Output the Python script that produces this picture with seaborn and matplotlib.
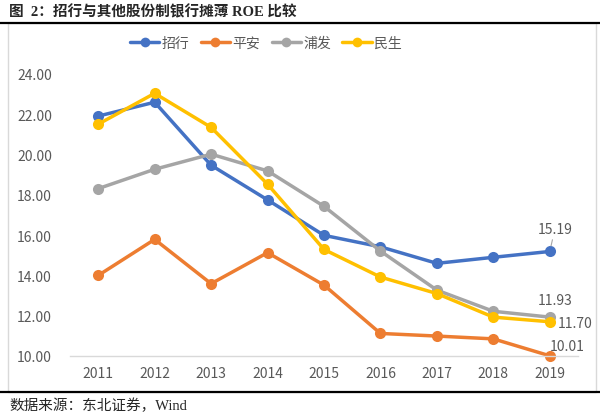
import pandas as pd
import seaborn as sns
import matplotlib.pyplot as plt
from matplotlib.lines import Line2D
from matplotlib.patches import Rectangle

# ---------------- data ----------------
years = ['2011', '2012', '2013', '2014', '2015', '2016', '2017', '2018', '2019']
zhaohang = [21.91, 22.60, 19.47, 17.75, 15.99, 15.42, 14.60, 14.90, 15.19]
pingan = [14.00, 15.79, 13.59, 15.13, 13.52, 11.12, 10.99, 10.85, 10.01]
pufa = [18.31, 19.27, 20.02, 19.19, 17.43, 15.21, 13.27, 12.22, 11.93]
minsheng = [21.51, 23.04, 21.35, 18.53, 15.29, 13.92, 13.10, 11.93, 11.70]

series_names = ['招行', '平安', '浦发', '民生']
colors = ['#4472C4', '#ED7D31', '#A5A5A5', '#FFC000']
tick_labels = ['10.00', '12.00', '14.00', '16.00', '18.00', '20.00', '22.00', '24.00']

df = pd.DataFrame({'year': years * 4,
                   'x': list(range(len(years))) * 4,
                   'roe': zhaohang + pingan + pufa + minsheng,
                   'bank': [n for n in series_names for _ in years]})

# ---------------- figure ----------------
sns.set_style('white')
plt.rcParams['font.family'] = ['Noto Sans CJK SC', 'DejaVu Sans']

fig = plt.figure(figsize=(6, 4.14), dpi=100)
ax = fig.add_axes([70 / 600, 1 - 357 / 414, 508 / 600, 282 / 414])

sns.lineplot(data=df, x='x', y='roe', hue='bank', palette=colors, ax=ax,
             marker='o', markersize=8, markeredgewidth=0, linewidth=2.5,
             legend=False)

ax.set_xlim(-0.5, len(years) - 0.5)
ax.set_ylim(10, 24)
ax.set_xticks(range(len(years)))
ax.set_xticklabels(years)
ax.set_yticks([float(t) for t in tick_labels])
ax.set_yticklabels(tick_labels)
ax.set_xlabel('')
ax.set_ylabel('')
ax.tick_params(axis='both', colors='#595959', labelsize=10, length=0)
ax.tick_params(axis='y', pad=13)
ax.tick_params(axis='x', pad=7)
for s in ['top', 'right', 'left']:
    ax.spines[s].set_visible(False)
ax.spines['bottom'].set_color('#D9D9D9')
ax.spines['bottom'].set_linewidth(1)
for ln in ax.lines:
    ln.set_clip_on(False)

# data labels at 2019
last = len(years) - 1
lab_style = dict(textcoords='offset pixels', fontsize=10, color='#595959')
ax.annotate(f'{zhaohang[-1]:.2f}', xy=(last, zhaohang[-1]), xytext=(5, 22),
            ha='center', va='center',
            arrowprops=dict(arrowstyle='-', color='#A5A5A5', lw=0.8, shrinkA=0, shrinkB=4),
            **lab_style)
ax.annotate(f'{pufa[-1]:.2f}', xy=(last, pufa[-1]), xytext=(5, 17),
            ha='center', va='center', **lab_style)
ax.annotate(f'{minsheng[-1]:.2f}', xy=(last, minsheng[-1]), xytext=(8, -1),
            ha='left', va='center', **lab_style)
ax.annotate(f'{pingan[-1]:.2f}', xy=(last, pingan[-1]), xytext=(17, 10),
            ha='center', va='center', **lab_style)

# legend
handles = [Line2D([0], [0], color=c, lw=2.5, marker='o', markersize=7,
                  markeredgewidth=0) for c in colors]
fig.legend(handles, series_names, loc='center', bbox_to_anchor=(266 / 600, 1 - 44 / 414),
           ncol=4, frameon=False, handlelength=2.1, columnspacing=0.8,
           handletextpad=0.2, fontsize=10, labelcolor='#595959')

# frame and rules
fig.add_artist(Rectangle((8 / 600, 1 - 393 / 414), 588 / 600, 369 / 414,
                         transform=fig.transFigure, fill=False,
                         edgecolor='#D9D9D9', lw=1))
fig.add_artist(Line2D([0, 1], [1 - 24 / 414] * 2, transform=fig.transFigure,
                      color='black', lw=1.6))
fig.add_artist(Line2D([0, 1], [1 - 393 / 414] * 2, transform=fig.transFigure,
                      color='black', lw=1.6))

serif_cjk = ['Liberation Serif', 'Noto Sans CJK SC']
fig.text(9 / 600, 1 - 12 / 414, '图  2：招行与其他股份制银行摊薄 ROE 比较',
         family=serif_cjk, fontweight='bold', fontsize=10.5, va='center', ha='left')
fig.text(9 / 600, 1 - 406 / 414, '数据来源：东北证券，Wind',
         family=serif_cjk, fontsize=10.5, va='center', ha='left')

fig.savefig('out.png', dpi=100)
